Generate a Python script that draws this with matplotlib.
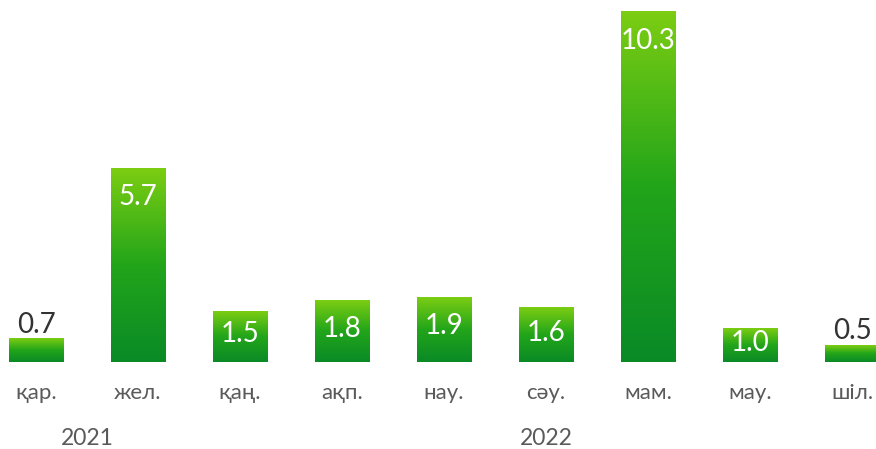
import matplotlib.pyplot as plt
import numpy as np
from matplotlib.colors import LinearSegmentedColormap

months = ["қар.", "жел.", "қаң.", "ақп.", "нау.", "сәу.", "мам.", "мау.", "шіл."]
values = [0.7, 5.7, 1.5, 1.8, 1.9, 1.6, 10.3, 1.0, 0.5]
value_labels = ["0.7", "5.7", "1.5", "1.8", "1.9", "1.6", "10.3", "1.0", "0.5"]
years = ["2021", "2022"]
year_pos = [0.5, 5.0]

# gradient: dark green at bottom, light green at top
cmap = LinearSegmentedColormap.from_list("grn", ["#0a8a26", "#22a51a", "#7ccd12"])
grad = np.linspace(0, 1, 256).reshape(-1, 1)

fig = plt.figure(figsize=(8.76, 4.49), dpi=100)
ax = fig.add_axes([0, 0, 1, 1])
ax.set_xlim(-0.353, 8.235)
ax.set_ylim(-2.56, 10.65)
ax.axis("off")

bw = 0.53
for i, v in enumerate(values):
    ax.imshow(grad, cmap=cmap, origin="lower", aspect="auto",
              extent=[i - bw / 2, i + bw / 2, 0, v], zorder=2)
    if v >= 1.0:
        off = min(0.85, v / 2 - 0.06)
        ax.text(i, v - off, value_labels[i], ha="center", va="center",
                color="white", fontsize=20, family="Lato", zorder=3)
    else:
        ax.text(i, v + 0.02, value_labels[i], ha="center", va="bottom",
                color="#333333", fontsize=20, family="Lato", zorder=3)
    ax.text(i, -0.92, months[i], ha="center", va="center",
            color="#5a5a5a", fontsize=16, family="Lato")

for y, p in zip(years, year_pos):
    ax.text(p, -2.25, y, ha="center", va="center",
            color="#5a5a5a", fontsize=16.5, family="Lato")

plt.savefig("out.png", dpi=100)
